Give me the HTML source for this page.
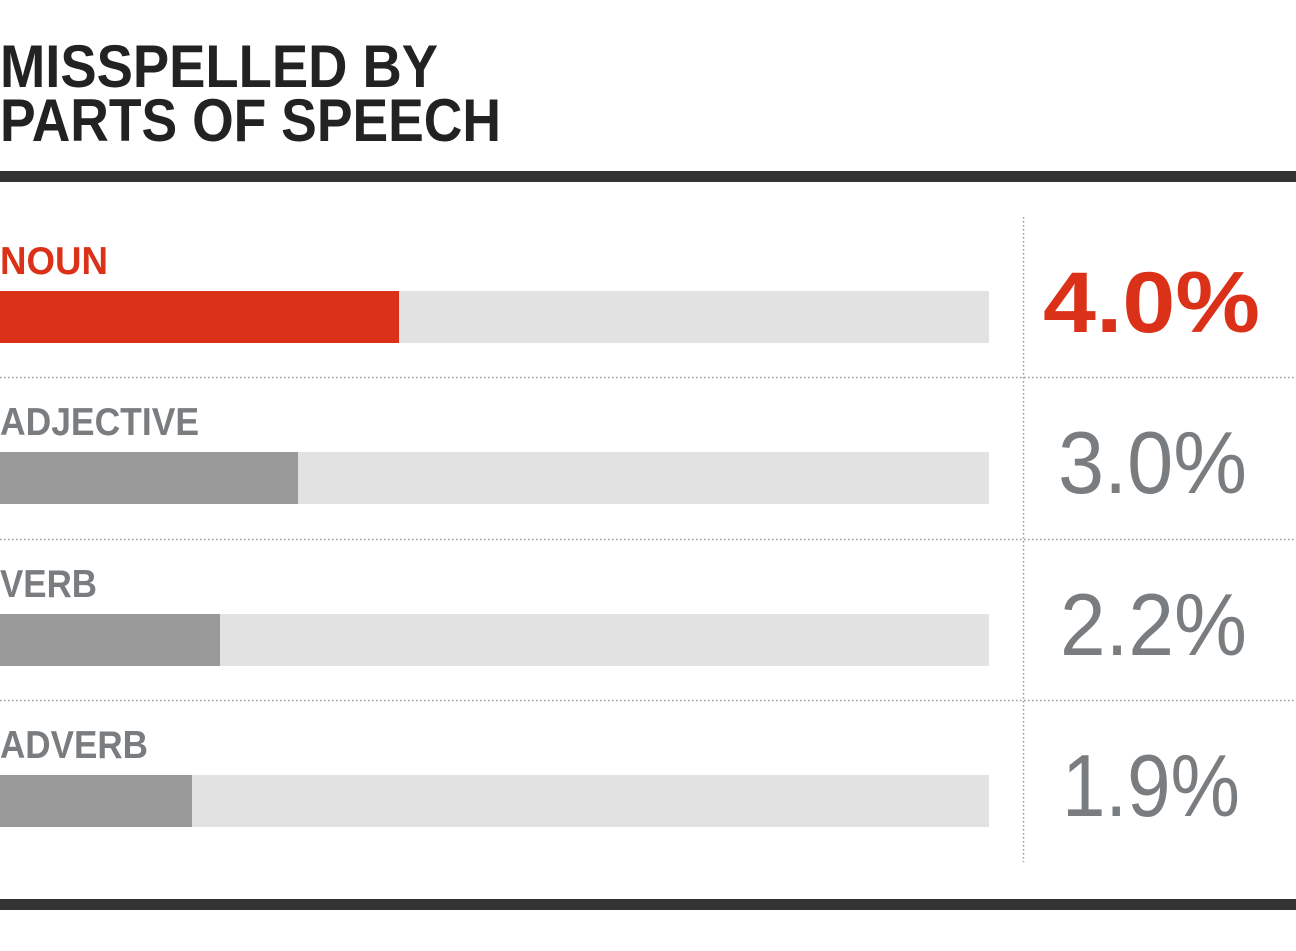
<!DOCTYPE html>
<html><head><meta charset="utf-8"><style>html,body{margin:0;padding:0;background:#fff}svg{display:block}</style></head>
<body>
<svg width="1296" height="951" xmlns="http://www.w3.org/2000/svg" font-family="Liberation Sans, sans-serif">
<text x="0" y="87" font-size="60" font-weight="bold" fill="#222" textLength="438" lengthAdjust="spacingAndGlyphs">MISSPELLED BY</text>
<text x="0" y="141" font-size="60" font-weight="bold" fill="#222" textLength="501" lengthAdjust="spacingAndGlyphs">PARTS OF SPEECH</text>
<rect x="0" y="171" width="1296" height="11" fill="#333"/>
<rect x="0" y="899" width="1296" height="11" fill="#333"/>
<g stroke="#9a9a9a" stroke-width="1.5" stroke-dasharray="1.5 2.5">
<line x1="1023.5" y1="217" x2="1023.5" y2="862"/>
<line x1="0" y1="377.5" x2="1296" y2="377.5"/>
<line x1="0" y1="539.5" x2="1296" y2="539.5"/>
<line x1="0" y1="700.5" x2="1296" y2="700.5"/>
</g>
<g fill="#e2e2e2">
<rect x="0" y="291" width="989" height="52"/>
<rect x="0" y="452" width="989" height="52"/>
<rect x="0" y="614" width="989" height="52"/>
<rect x="0" y="775" width="989" height="52"/>
</g>
<rect x="0" y="291" width="399" height="52" fill="#dc3119"/>
<rect x="0" y="452" width="298" height="52" fill="#9a9a9a"/>
<rect x="0" y="614" width="220" height="52" fill="#9a9a9a"/>
<rect x="0" y="775" width="192" height="52" fill="#9a9a9a"/>
<g font-size="39" font-weight="bold">
<text x="0" y="274" fill="#dc3119" textLength="108" lengthAdjust="spacingAndGlyphs">NOUN</text>
<text x="0" y="435" fill="#7a7d80" textLength="199" lengthAdjust="spacingAndGlyphs">ADJECTIVE</text>
<text x="0" y="597" fill="#7a7d80" textLength="97" lengthAdjust="spacingAndGlyphs">VERB</text>
<text x="0" y="758" fill="#7a7d80" textLength="148" lengthAdjust="spacingAndGlyphs">ADVERB</text>
</g>
<text x="1043" y="332" font-size="86" font-weight="bold" fill="#dc3119" textLength="217" lengthAdjust="spacingAndGlyphs">4.0%</text>
<g font-size="88" fill="#7a7d80">
<text x="1058" y="493" textLength="189" lengthAdjust="spacingAndGlyphs">3.0%</text>
<text x="1060" y="655" textLength="187" lengthAdjust="spacingAndGlyphs">2.2%</text>
<text x="1062" y="816" textLength="178" lengthAdjust="spacingAndGlyphs">1.9%</text>
</g>
</svg>
</body></html>
